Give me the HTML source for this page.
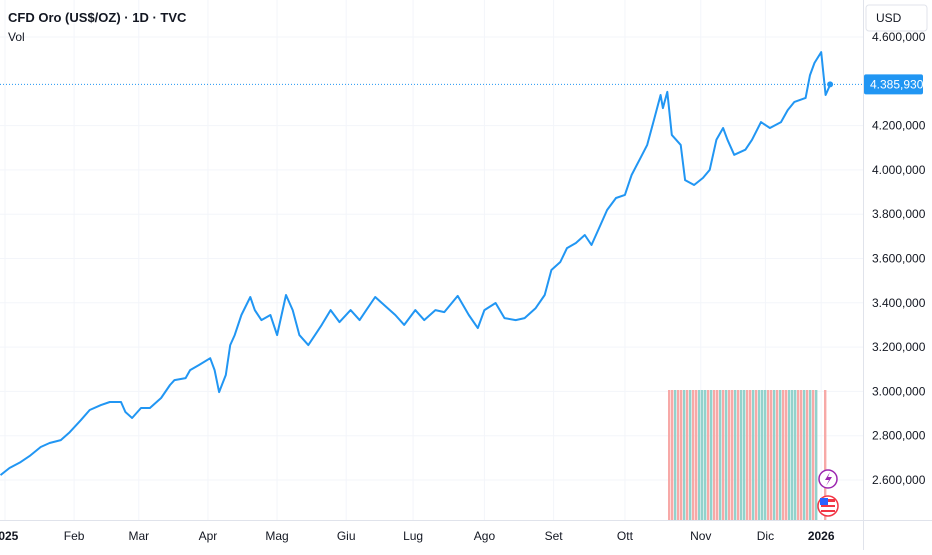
<!DOCTYPE html>
<html><head><meta charset="utf-8"><style>
body{margin:0;background:#fff;font-family:"Liberation Sans",sans-serif;}
svg text{font-family:"Liberation Sans",sans-serif;}
</style></head><body>
<svg id="c" width="932" height="550" xmlns="http://www.w3.org/2000/svg">
<g id="grid"></g><g id="vol"></g><g id="line"></g><g id="axes"></g>
<text x="8" y="22" font-size="13" font-weight="bold" fill="#131722">CFD Oro (US$/OZ) · 1D · TVC</text>
<text x="8" y="41" font-size="12" fill="#131722">Vol</text>
<rect x="866" y="5" width="61" height="26" rx="3" fill="#fff" stroke="#e0e3eb"/>
<text x="876" y="22" font-size="12" fill="#131722">USD</text>
<g><circle cx="828" cy="479" r="9" fill="#fff" stroke="#9c27b0" stroke-width="1.5"/><path d="M830 472 L825 480 L829 480 L826 486 L832 477 L828 477 Z" fill="#9c27b0"/></g>
<g><circle cx="828" cy="506" r="10" fill="#fff" stroke="#f23645" stroke-width="1.5"/><rect x="821" y="499" width="14" height="3" fill="#f23645"/><rect x="821" y="505" width="14" height="2" fill="#f23645"/><rect x="821" y="510" width="14" height="2" fill="#f23645"/><rect x="820" y="498" width="8" height="7" fill="#2962ff"/></g>
</svg>
<script>
const days=[-2,2,7,11,16,20,25,29,34,38,43,47,52,54,57,61,65,70,74,76,81,83,87,92,94,96,99,101,103,106,110,112,115,119,122,126,129,132,136,139,142,146,150,155,159,162,166,170,175,179,184,188,193,197,203,208,212,215,220,224,229,233,238,242,245,249,252,256,260,263,267,270,274,278,281,285,288,291,294,295,297,299,303,305,309,313,316,319,322,324,327,332,335,339,343,348,351,354,359,361,363,366,368,370];
const prices=[2622,2654,2681,2708,2749,2767,2780,2816,2870,2916,2938,2952,2952,2907,2880,2925,2925,2970,3029,3051,3060,3096,3119,3150,3096,2997,3074,3209,3254,3345,3426,3367,3322,3345,3254,3435,3367,3254,3209,3254,3300,3367,3313,3367,3322,3367,3426,3390,3345,3300,3367,3322,3367,3358,3431,3345,3286,3367,3399,3331,3322,3331,3376,3435,3548,3584,3647,3670,3706,3661,3751,3819,3873,3887,3977,4054,4113,4225,4338,4279,4352,4158,4113,3954,3932,3964,4000,4136,4189,4136,4068,4091,4136,4216,4189,4216,4270,4307,4325,4428,4483,4532,4338,4383.93];
const priceTicks=[2600,2800,3000,3200,3400,3600,3800,4000,4200,4600];
const tickLabels=["2.600,000","2.800,000","3.000,000","3.200,000","3.400,000","3.600,000","3.800,000","4.000,000","4.200,000","4.600,000"];
const monthLabels=["2025","Feb","Mar","Apr","Mag","Giu","Lug","Ago","Set","Ott","Nov","Dic","2026"];
const monthDays=[0,31,60,91,122,153,183,215,246,278,312,341,366];
const volDir="rrgrrgrgrrgggrgrrgrgrrgrggrrgrgggrrgrgrrgggrrgrgrg";
const lastPrice=4385.93, lastLabel="4.385,930";
const NS="http://www.w3.org/2000/svg";
const xS=d=>5+d*2.23;
const yS=v=>37+(4600-v)*44.3/200;
function mk(p,t,a){const e=document.createElementNS(NS,t);for(const k in a)e.setAttribute(k,a[k]);p.appendChild(e);return e;}
const grid=document.getElementById('grid'),axes=document.getElementById('axes');
priceTicks.forEach((v,i)=>{
 const gl=mk(grid,'line',{x1:0,x2:863,y1:yS(v),y2:yS(v),stroke:'#f3f5fa'});
 
 
 const t=mk(axes,'text',{x:872,y:yS(v)+4,'font-size':12,fill:'#131722'});t.textContent=tickLabels[i];
 
 
});
monthLabels.forEach((m,i)=>{
 const x=xS(monthDays[i]);
 const gl=mk(grid,'line',{x1:x,x2:x,y1:0,y2:520,stroke:'#f3f5fa'});
 
 
 const t=mk(axes,'text',{x:x,y:540,'font-size':12,fill:'#131722','text-anchor':'middle','font-weight':(m.length==4?'bold':'normal')});t.textContent=m;
 
 
});
const ax=mk(axes,'line',{x1:0,x2:932,y1:520.5,y2:520.5,stroke:'#e0e3eb'});


const ay=mk(axes,'line',{x1:863.5,x2:863.5,y1:0,y2:550,stroke:'#e0e3eb'});


const vol=document.getElementById('vol');
for(let i=0;i<volDir.length;i++){
 const r=mk(vol,'rect',{x:668+i*3,y:390,width:2.4,height:130,fill:volDir[i]=='g'?'#92d2cc':'#f7a9a7'});
 
 
}
const vb=mk(vol,'rect',{x:824,y:390,width:2.4,height:130,fill:'#f7a9a7'});


const ly=yS(lastPrice);
const pl=mk(axes,'line',{x1:0,x2:863,y1:ly,y2:ly,stroke:'#2196f3','stroke-dasharray':'1,2'});


const line=document.getElementById('line');
const path=mk(line,'path',{d:days.map((d,i)=>(i?'L':'M')+xS(d).toFixed(1)+' '+yS(prices[i]).toFixed(1)).join(' '),fill:'none',stroke:'#2196f3','stroke-width':2,'stroke-linejoin':'round'});


const dot=mk(line,'circle',{cx:xS(days[days.length-1]),cy:ly,r:3,fill:'#2196f3'});


const lb=mk(axes,'rect',{x:864,y:ly-10,width:59,height:20,rx:2,fill:'#2196f3'});


const lt=mk(axes,'text',{x:870,y:ly+4,'font-size':12,fill:'#fff'});lt.textContent=lastLabel;


</script>
</body></html>
